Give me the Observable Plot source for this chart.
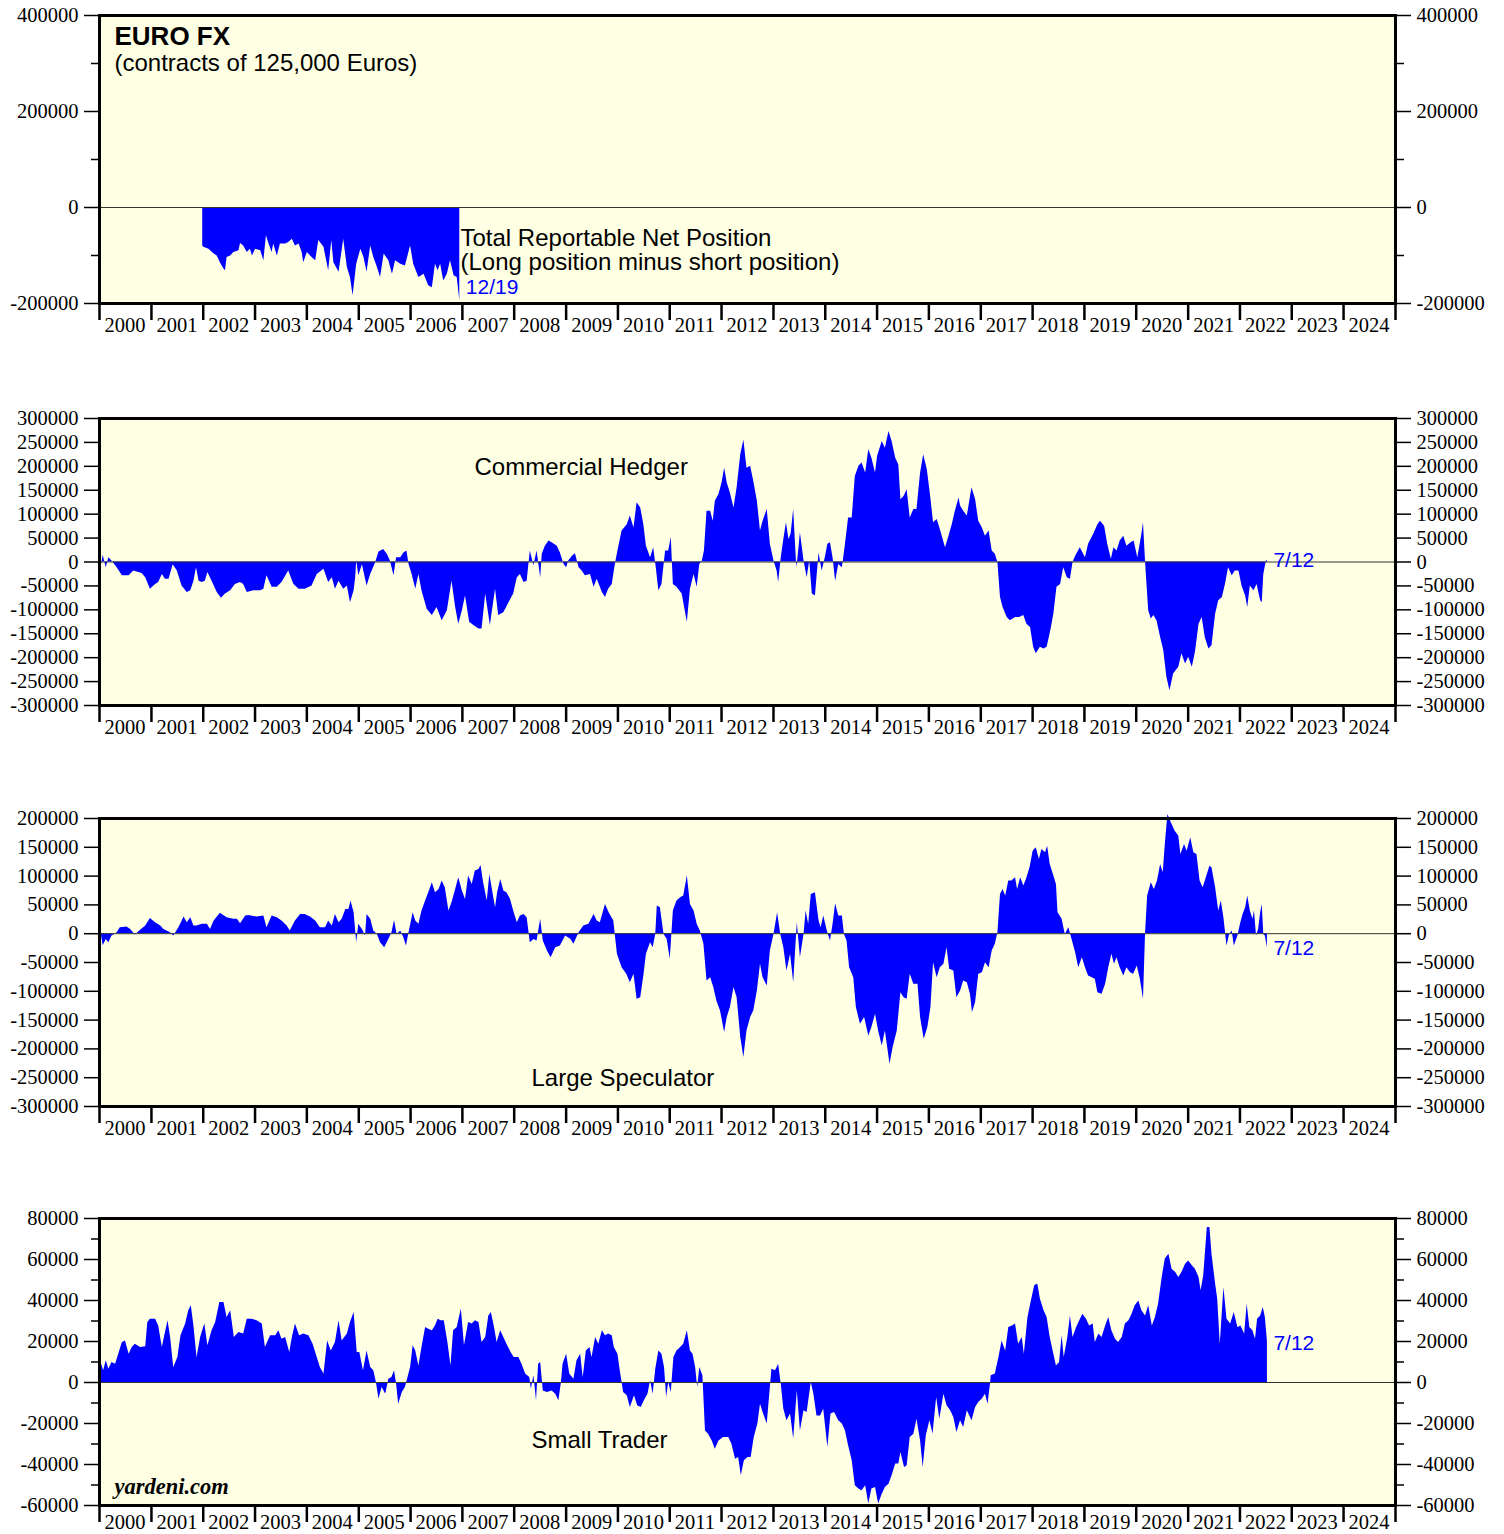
<!DOCTYPE html>
<html><head><meta charset="utf-8">
<script src="https://cdn.jsdelivr.net/npm/d3@7"></script>
<script src="https://cdn.jsdelivr.net/npm/@observablehq/plot@0.6"></script>
<style>
body{margin:0;background:#fff;}
#root{position:relative;width:1504px;height:1534px;overflow:hidden;background:#fff;}
</style></head><body><div id="root"></div>
<script>
// ---- data (decimal year, thousands of contracts) ----
const totalNet = [[2001.99,-80],[2002.01,-83],[2002.11,-87],[2002.21,-97],[2002.27,-101],[2002.33,-115],[2002.40,-128],[2002.43,-132],[2002.46,-104],[2002.53,-101],[2002.59,-94],[2002.69,-90],[2002.72,-75],[2002.78,-80],[2002.85,-94],[2002.91,-87],[2002.95,-101],[2003.01,-87],[2003.11,-90],[2003.17,-111],[2003.22,-59],[2003.27,-76],[2003.33,-94],[2003.36,-76],[2003.43,-101],[2003.49,-76],[2003.59,-76],[2003.65,-73],[2003.72,-66],[2003.78,-80],[2003.85,-76],[2003.91,-94],[2003.94,-115],[2004.01,-94],[2004.10,-104],[2004.17,-111],[2004.23,-69],[2004.33,-83],[2004.42,-132],[2004.48,-69],[2004.52,-115],[2004.62,-135],[2004.71,-66],[2004.78,-125],[2004.84,-146],[2004.89,-184],[2004.96,-118],[2005.04,-87],[2005.10,-104],[2005.16,-135],[2005.23,-80],[2005.29,-104],[2005.36,-125],[2005.42,-146],[2005.49,-97],[2005.58,-111],[2005.65,-139],[2005.71,-111],[2005.81,-118],[2005.90,-122],[2006.00,-80],[2006.06,-118],[2006.16,-146],[2006.26,-139],[2006.35,-163],[2006.42,-167],[2006.48,-118],[2006.53,-132],[2006.58,-118],[2006.64,-153],[2006.71,-139],[2006.77,-111],[2006.84,-142],[2006.90,-146],[2006.95,-194]];

const hedger = [[2000.02,-19],[2000.07,14],[2000.13,-12],[2000.18,9],[2000.24,2],[2000.34,-12],[2000.44,-29],[2000.57,-29],[2000.66,-19],[2000.82,-24],[2000.89,-33],[2000.98,-57],[2001.08,-47],[2001.14,-43],[2001.21,-26],[2001.27,-36],[2001.34,-36],[2001.42,-6],[2001.50,-19],[2001.59,-50],[2001.69,-64],[2001.76,-60],[2001.82,-40],[2001.87,-12],[2001.92,-40],[2001.98,-43],[2002.04,-40],[2002.09,-22],[2002.17,-40],[2002.27,-64],[2002.35,-76],[2002.43,-67],[2002.53,-60],[2002.62,-47],[2002.72,-43],[2002.78,-47],[2002.85,-64],[2002.98,-60],[2003.11,-60],[2003.17,-57],[2003.23,-29],[2003.33,-53],[2003.43,-53],[2003.52,-43],[2003.65,-19],[2003.75,-47],[2003.85,-57],[2003.97,-57],[2004.10,-50],[2004.20,-26],[2004.33,-15],[2004.42,-43],[2004.49,-33],[2004.55,-57],[2004.62,-40],[2004.71,-57],[2004.78,-50],[2004.84,-85],[2004.91,-60],[2004.94,-33],[2004.96,3],[2005.00,-29],[2005.07,-6],[2005.16,-50],[2005.23,-26],[2005.32,-3],[2005.39,21],[2005.48,26],[2005.55,16],[2005.61,2],[2005.68,-29],[2005.73,9],[2005.81,9],[2005.87,19],[2005.93,23],[2005.97,-5],[2006.03,-26],[2006.10,-57],[2006.16,-26],[2006.22,-60],[2006.32,-99],[2006.42,-112],[2006.51,-95],[2006.61,-123],[2006.71,-102],[2006.80,-40],[2006.87,-95],[2006.93,-130],[2007.00,-102],[2007.06,-71],[2007.14,-126],[2007.22,-133],[2007.32,-140],[2007.38,-140],[2007.45,-67],[2007.54,-133],[2007.64,-57],[2007.70,-112],[2007.80,-106],[2007.90,-85],[2007.99,-67],[2008.06,-33],[2008.12,-26],[2008.19,-43],[2008.25,-40],[2008.31,23],[2008.38,-8],[2008.44,23],[2008.51,-33],[2008.54,16],[2008.60,33],[2008.67,44],[2008.73,40],[2008.83,33],[2008.89,19],[2008.96,-5],[2009.01,-12],[2009.05,2],[2009.12,12],[2009.18,17],[2009.25,-12],[2009.31,-19],[2009.37,-29],[2009.47,-26],[2009.54,-53],[2009.60,-36],[2009.70,-64],[2009.76,-74],[2009.82,-57],[2009.89,-47],[2009.95,-5],[2010.00,23],[2010.08,65],[2010.18,78],[2010.24,96],[2010.31,71],[2010.37,124],[2010.44,113],[2010.50,78],[2010.55,33],[2010.63,9],[2010.69,30],[2010.74,-12],[2010.79,-60],[2010.85,-47],[2010.92,23],[2010.98,23],[2011.03,51],[2011.07,-47],[2011.14,-53],[2011.24,-67],[2011.34,-126],[2011.40,-57],[2011.47,-26],[2011.53,-53],[2011.58,-5],[2011.63,2],[2011.67,23],[2011.72,106],[2011.79,106],[2011.84,85],[2011.88,127],[2011.95,141],[2012.01,165],[2012.06,196],[2012.11,165],[2012.17,144],[2012.24,113],[2012.30,155],[2012.37,224],[2012.43,255],[2012.49,196],[2012.56,200],[2012.62,169],[2012.69,127],[2012.75,65],[2012.80,85],[2012.88,110],[2012.94,37],[2013.01,2],[2013.07,-19],[2013.10,-43],[2013.15,9],[2013.20,47],[2013.25,82],[2013.30,47],[2013.34,58],[2013.39,110],[2013.45,-12],[2013.47,6],[2013.52,61],[2013.59,2],[2013.65,-33],[2013.70,2],[2013.75,-67],[2013.81,-71],[2013.88,19],[2013.94,-19],[2014.00,9],[2014.05,37],[2014.10,40],[2014.15,9],[2014.20,-40],[2014.26,-5],[2014.33,-12],[2014.39,37],[2014.45,92],[2014.52,92],[2014.58,179],[2014.65,200],[2014.71,207],[2014.78,186],[2014.84,235],[2014.90,217],[2014.97,186],[2015.01,221],[2015.10,252],[2015.16,238],[2015.23,273],[2015.29,252],[2015.36,217],[2015.42,203],[2015.46,130],[2015.52,137],[2015.58,151],[2015.64,92],[2015.71,110],[2015.77,110],[2015.84,186],[2015.90,224],[2015.97,193],[2016.03,141],[2016.09,82],[2016.16,89],[2016.22,68],[2016.32,30],[2016.38,51],[2016.45,78],[2016.51,106],[2016.58,134],[2016.61,117],[2016.67,106],[2016.74,96],[2016.83,155],[2016.90,130],[2016.96,85],[2017.03,71],[2017.09,54],[2017.16,65],[2017.22,23],[2017.28,16],[2017.33,-1],[2017.38,-74],[2017.43,-95],[2017.51,-116],[2017.57,-123],[2017.67,-116],[2017.75,-116],[2017.83,-112],[2017.89,-130],[2017.96,-137],[2018.02,-178],[2018.07,-192],[2018.15,-178],[2018.22,-182],[2018.28,-178],[2018.35,-144],[2018.41,-109],[2018.47,-53],[2018.54,-47],[2018.60,-12],[2018.67,-33],[2018.73,-36],[2018.78,-1],[2018.83,12],[2018.92,30],[2019.02,9],[2019.08,37],[2019.18,58],[2019.26,78],[2019.31,85],[2019.39,75],[2019.45,37],[2019.52,6],[2019.57,30],[2019.63,23],[2019.69,44],[2019.76,54],[2019.82,33],[2019.90,40],[2019.96,44],[2020.03,9],[2020.11,58],[2020.14,82],[2020.18,-1],[2020.24,-102],[2020.29,-119],[2020.34,-112],[2020.40,-123],[2020.47,-158],[2020.53,-185],[2020.59,-241],[2020.65,-269],[2020.72,-234],[2020.82,-220],[2020.88,-192],[2020.95,-213],[2021.01,-199],[2021.08,-220],[2021.14,-189],[2021.21,-130],[2021.27,-116],[2021.33,-158],[2021.40,-182],[2021.46,-175],[2021.53,-109],[2021.59,-81],[2021.66,-74],[2021.72,-47],[2021.78,-12],[2021.85,-29],[2021.91,-19],[2021.98,-19],[2022.04,-50],[2022.11,-71],[2022.15,-95],[2022.20,-50],[2022.27,-60],[2022.33,-47],[2022.40,-81],[2022.43,-85],[2022.46,-26],[2022.51,2],[2022.53,3]];

const largeSpec = [[2000.02,7.5],[2000.07,-21],[2000.13,-10],[2000.18,-15.6],[2000.24,-4],[2000.34,1.7],[2000.40,10.4],[2000.53,11.6],[2000.60,7.5],[2000.69,-2.3],[2000.79,5.8],[2000.89,13.3],[2000.98,26.6],[2001.08,19],[2001.18,13.3],[2001.24,7.5],[2001.37,1.7],[2001.43,-4],[2001.53,10.4],[2001.63,29],[2001.69,19],[2001.76,27.7],[2001.82,13.3],[2001.88,13.3],[2001.98,16.2],[2002.08,16.2],[2002.14,7.5],[2002.21,22],[2002.33,35.3],[2002.46,27.7],[2002.59,24.9],[2002.66,24.9],[2002.72,17.3],[2002.82,30.6],[2002.88,31.8],[2003.04,28.9],[2003.17,30.6],[2003.23,10.4],[2003.33,30.6],[2003.43,27.7],[2003.52,22],[2003.62,13.3],[2003.68,4.6],[2003.78,22],[2003.88,33.5],[2003.97,33.5],[2004.07,28.9],[2004.17,22],[2004.26,10.4],[2004.36,10.4],[2004.42,22],[2004.49,13.3],[2004.55,33.5],[2004.62,19],[2004.68,24.9],[2004.75,42.2],[2004.81,42.2],[2004.85,56.6],[2004.91,36.4],[2004.96,-15.6],[2005.00,16.2],[2005.07,7.5],[2005.13,-4],[2005.16,33.5],[2005.23,24.9],[2005.29,4.6],[2005.36,-1.2],[2005.42,-15.6],[2005.50,-24.3],[2005.58,-10],[2005.64,1.7],[2005.69,23],[2005.74,-1.2],[2005.81,4.6],[2005.87,-6.9],[2005.92,-21.4],[2005.97,1.7],[2006.05,36.4],[2006.10,22],[2006.16,16.2],[2006.22,39.3],[2006.29,56.6],[2006.35,71],[2006.42,88.4],[2006.48,71],[2006.55,76.8],[2006.61,91.3],[2006.67,79.8],[2006.74,39.3],[2006.80,53.7],[2006.87,76.8],[2006.93,97.1],[2007.00,74],[2007.06,59.5],[2007.12,100],[2007.19,85.5],[2007.25,108.7],[2007.32,111.6],[2007.36,118.5],[2007.41,88.4],[2007.48,56.6],[2007.53,102.9],[2007.59,71],[2007.64,45],[2007.68,71],[2007.74,94.2],[2007.80,74],[2007.86,71],[2007.93,59.5],[2007.99,39.3],[2008.06,19],[2008.12,30.6],[2008.19,33.5],[2008.25,27.7],[2008.31,-15.6],[2008.38,-10],[2008.44,-12.7],[2008.51,24.9],[2008.56,-12.7],[2008.64,-30],[2008.71,-41.6],[2008.80,-24.3],[2008.89,-21.4],[2008.99,-4],[2009.09,-9.8],[2009.15,-18.5],[2009.25,1.7],[2009.34,13.3],[2009.44,16.2],[2009.54,33.5],[2009.60,22],[2009.66,19],[2009.76,50.9],[2009.83,36.4],[2009.92,22],[2009.99,-35.8],[2010.08,-59],[2010.17,-70.5],[2010.24,-85],[2010.31,-70.5],[2010.37,-114],[2010.44,-111],[2010.50,-73.4],[2010.55,-35.8],[2010.63,-15.6],[2010.68,-24.3],[2010.73,-1.2],[2010.76,48],[2010.82,45],[2010.89,-1.2],[2010.95,-9.8],[2011.01,-44.5],[2011.07,39.3],[2011.14,56.6],[2011.21,62.4],[2011.27,65.3],[2011.34,100],[2011.40,50.9],[2011.47,39.3],[2011.53,16.2],[2011.59,4.6],[2011.66,-18.5],[2011.72,-82],[2011.79,-76.3],[2011.85,-93.6],[2011.91,-116.8],[2011.98,-134],[2012.06,-171.7],[2012.11,-145.7],[2012.17,-128.3],[2012.24,-93.6],[2012.30,-111],[2012.37,-180],[2012.43,-215],[2012.49,-168.8],[2012.56,-145.7],[2012.62,-134],[2012.69,-99.4],[2012.75,-53.2],[2012.80,-76.3],[2012.88,-90.7],[2012.94,-30],[2013.01,-1.2],[2013.08,36.4],[2013.14,-1.2],[2013.20,-24.3],[2013.26,-64.7],[2013.33,-35.8],[2013.39,-85],[2013.46,19],[2013.52,-41.6],[2013.59,-1.2],[2013.63,39.3],[2013.68,16.2],[2013.73,68.2],[2013.81,71],[2013.88,22],[2013.92,10.4],[2013.97,30.6],[2014.04,4.6],[2014.10,-12.7],[2014.15,16.2],[2014.20,52],[2014.26,30.6],[2014.33,30.6],[2014.37,-1.2],[2014.42,-12.7],[2014.47,-59],[2014.55,-76.3],[2014.60,-128.3],[2014.68,-157.2],[2014.76,-145.7],[2014.84,-177.5],[2014.90,-163],[2014.97,-140],[2015.03,-168.8],[2015.10,-194.8],[2015.16,-168.8],[2015.25,-226.6],[2015.31,-197.7],[2015.39,-168.8],[2015.46,-102.3],[2015.52,-111],[2015.58,-114],[2015.64,-70.5],[2015.71,-87.9],[2015.79,-87.9],[2015.84,-145.7],[2015.91,-183.2],[2015.98,-163],[2016.04,-128.3],[2016.09,-50.3],[2016.16,-76.3],[2016.22,-59],[2016.29,-53.2],[2016.35,-24.3],[2016.40,-61.8],[2016.48,-64.7],[2016.54,-111],[2016.61,-99.4],[2016.67,-82],[2016.74,-85],[2016.80,-105],[2016.84,-137],[2016.90,-119.6],[2016.96,-70.5],[2017.03,-67.6],[2017.09,-50.3],[2017.16,-59],[2017.22,-30],[2017.28,-18.5],[2017.33,1.7],[2017.38,68.2],[2017.43,76.9],[2017.48,65.3],[2017.54,91.3],[2017.60,91.3],[2017.67,97.1],[2017.71,76.9],[2017.77,97.1],[2017.83,82.7],[2017.88,94.2],[2017.95,114.4],[2018.01,143.3],[2018.07,149.1],[2018.13,128.9],[2018.18,146.2],[2018.25,140.5],[2018.29,152],[2018.34,120.2],[2018.41,100],[2018.46,85.5],[2018.49,36.4],[2018.57,24.9],[2018.63,-1.2],[2018.70,10.4],[2018.76,-9.8],[2018.83,-33],[2018.89,-59],[2018.96,-41.6],[2019.02,-59],[2019.08,-73.4],[2019.15,-76.3],[2019.21,-79.2],[2019.26,-102.3],[2019.34,-105],[2019.41,-87.9],[2019.47,-59],[2019.53,-35.8],[2019.58,-53.2],[2019.63,-41.6],[2019.69,-59],[2019.76,-73.4],[2019.82,-59],[2019.89,-67.6],[2019.95,-70.5],[2020.02,-56.1],[2020.08,-79.2],[2020.14,-114],[2020.18,1.7],[2020.22,65.3],[2020.29,88.4],[2020.35,76.9],[2020.41,91.3],[2020.47,120.2],[2020.52,105.8],[2020.56,154.9],[2020.61,206.9],[2020.69,189.6],[2020.75,178],[2020.82,169.4],[2020.86,137.6],[2020.93,154.9],[2020.98,143.3],[2021.05,166.5],[2021.11,140.5],[2021.17,137.6],[2021.23,91.3],[2021.29,79.8],[2021.35,97.1],[2021.42,117.3],[2021.46,114.4],[2021.53,79.8],[2021.59,39.3],[2021.64,56.6],[2021.69,27.7],[2021.75,-21.4],[2021.80,-1.2],[2021.85,4.6],[2021.89,-21.4],[2021.96,-4],[2022.01,16.2],[2022.06,33.5],[2022.11,45],[2022.15,65.3],[2022.20,39.3],[2022.25,24.9],[2022.28,39.3],[2022.32,-4],[2022.36,7.5],[2022.40,36.4],[2022.43,50.9],[2022.46,-1.2],[2022.49,-4],[2022.53,-24.3]];

const smallTrader = [[2000.02,10.6],[2000.08,5.7],[2000.13,10.6],[2000.18,6.5],[2000.24,9.8],[2000.31,8.9],[2000.37,13.8],[2000.44,19.5],[2000.50,20.3],[2000.57,13.8],[2000.63,17.1],[2000.69,18.7],[2000.79,17.1],[2000.89,17.4],[2000.93,29.3],[2000.98,30.9],[2001.08,30.9],[2001.14,27.6],[2001.21,17.1],[2001.25,22],[2001.32,30.1],[2001.37,22],[2001.43,7.3],[2001.51,12.2],[2001.57,22.8],[2001.66,28.5],[2001.72,35],[2001.77,37.4],[2001.82,27.6],[2001.88,12.2],[2001.95,22],[2002.03,28.5],[2002.09,17.9],[2002.17,25.2],[2002.24,29.3],[2002.32,39],[2002.40,39],[2002.46,31.7],[2002.53,35],[2002.60,22],[2002.69,24.4],[2002.78,23.6],[2002.85,30.9],[2002.94,30.9],[2003.04,30.1],[2003.14,28.5],[2003.20,17.1],[2003.30,22.8],[2003.40,22.8],[2003.46,25.2],[2003.52,21.1],[2003.59,22],[2003.67,14.6],[2003.72,22],[2003.78,28.5],[2003.86,22.8],[2003.94,23.6],[2004.04,22.8],[2004.12,18.7],[2004.20,12.2],[2004.26,7.3],[2004.33,4.1],[2004.40,20.3],[2004.47,15.4],[2004.55,19.5],[2004.62,30.1],[2004.68,20.3],[2004.78,23.6],[2004.84,29.3],[2004.91,34.1],[2004.97,14.6],[2005.02,14.6],[2005.09,5.7],[2005.16,15.4],[2005.23,7.3],[2005.29,5.7],[2005.34,0],[2005.39,-8.1],[2005.45,-2.4],[2005.52,-5.7],[2005.58,1.6],[2005.64,2.4],[2005.69,5.7],[2005.73,-0.8],[2005.77,-10.6],[2005.84,-4.9],[2005.90,-2.4],[2005.95,2.4],[2006.00,7.3],[2006.05,17.9],[2006.10,15.4],[2006.16,8.1],[2006.22,17.1],[2006.29,26.8],[2006.35,26],[2006.42,25.2],[2006.48,27.6],[2006.53,30.9],[2006.59,30.1],[2006.65,30.1],[2006.72,19.5],[2006.78,8.1],[2006.83,25.2],[2006.90,26.8],[2006.98,35.8],[2007.04,17.9],[2007.12,29.3],[2007.19,28.5],[2007.25,30.1],[2007.32,29.3],[2007.38,19.5],[2007.45,22],[2007.51,32.5],[2007.56,34.1],[2007.62,26.8],[2007.67,19.5],[2007.74,25.2],[2007.80,22],[2007.86,18.7],[2007.94,14.6],[2008.00,12.2],[2008.09,12.2],[2008.15,8.9],[2008.22,4.1],[2008.30,2.4],[2008.33,-3.3],[2008.38,3.3],[2008.43,-8.9],[2008.47,8.9],[2008.51,9.8],[2008.56,-4.1],[2008.64,-4.9],[2008.73,-4.1],[2008.80,-5.7],[2008.86,-8.9],[2008.91,0],[2008.94,8.9],[2009.01,13.8],[2009.07,4.1],[2009.15,1.6],[2009.21,10.6],[2009.28,13.8],[2009.33,2.4],[2009.39,15.4],[2009.46,17.1],[2009.50,12.2],[2009.57,22],[2009.63,18.7],[2009.70,25.2],[2009.76,22.8],[2009.82,23.6],[2009.89,22.8],[2009.93,17.1],[2010.00,13.8],[2010.05,4.9],[2010.11,-4.9],[2010.18,-6.5],[2010.24,-12.2],[2010.32,-6.5],[2010.38,-11.4],[2010.45,-12.2],[2010.51,-8.9],[2010.58,-5.7],[2010.63,0.8],[2010.68,-5.7],[2010.73,6.5],[2010.79,15.4],[2010.85,13.8],[2010.90,7.3],[2010.94,-7.3],[2010.98,0],[2011.03,-4.9],[2011.08,12.2],[2011.14,15.4],[2011.21,17.1],[2011.27,18.7],[2011.34,25.2],[2011.40,15.4],[2011.45,13.8],[2011.50,7.3],[2011.54,-2.4],[2011.58,7.3],[2011.64,3.3],[2011.69,-23.6],[2011.75,-25.2],[2011.82,-28.5],[2011.88,-32.5],[2011.95,-28.5],[2012.04,-26.8],[2012.14,-26.8],[2012.20,-30.1],[2012.27,-37.4],[2012.33,-36.6],[2012.38,-45.5],[2012.44,-38.2],[2012.51,-36.6],[2012.57,-36.6],[2012.63,-26.8],[2012.70,-20.3],[2012.75,-10.6],[2012.81,-15.4],[2012.88,-20.3],[2012.94,-2.4],[2012.97,6.5],[2013.04,5.7],[2013.10,8.9],[2013.15,-0.8],[2013.20,-13],[2013.26,-18.7],[2013.33,-15.4],[2013.39,-27.6],[2013.46,-4.1],[2013.52,-23.6],[2013.59,-13.8],[2013.65,-14.6],[2013.73,0],[2013.78,-5.7],[2013.84,-16.3],[2013.91,-16.3],[2013.97,-13],[2014.05,-31.7],[2014.11,-15.4],[2014.18,-14.6],[2014.26,-18.7],[2014.33,-20.3],[2014.39,-23.6],[2014.45,-30.9],[2014.52,-38.2],[2014.58,-50.4],[2014.65,-52],[2014.71,-52.8],[2014.78,-50.4],[2014.84,-59.3],[2014.90,-52],[2014.97,-51.2],[2015.03,-59.3],[2015.10,-54.5],[2015.16,-51.2],[2015.23,-49.6],[2015.29,-45.5],[2015.36,-39.8],[2015.42,-39.8],[2015.46,-34.1],[2015.53,-41.5],[2015.58,-40.7],[2015.64,-26.8],[2015.71,-25.2],[2015.77,-17.9],[2015.84,-28.5],[2015.89,-41.5],[2015.95,-26],[2016.02,-18.7],[2016.08,-25.2],[2016.15,-7.3],[2016.21,-17.9],[2016.29,-5.7],[2016.35,-11.4],[2016.42,-13.8],[2016.48,-17.1],[2016.54,-24.4],[2016.61,-18.7],[2016.67,-22],[2016.74,-13.8],[2016.83,-18.7],[2016.90,-12.2],[2016.96,-9.8],[2017.03,-8.1],[2017.09,-5.7],[2017.14,-10.6],[2017.19,0],[2017.20,3.3],[2017.28,4.1],[2017.35,12.2],[2017.41,20.3],[2017.48,15.4],[2017.54,26.8],[2017.61,27.6],[2017.67,28.5],[2017.73,18.7],[2017.80,22],[2017.84,13.8],[2017.91,31.7],[2017.97,39],[2018.04,47.2],[2018.10,48],[2018.15,40.7],[2018.22,35],[2018.28,31.7],[2018.34,22],[2018.41,13.8],[2018.46,8.1],[2018.52,9.8],[2018.57,22.8],[2018.61,12.2],[2018.68,22],[2018.73,32.5],[2018.78,22],[2018.85,26.8],[2018.91,30.1],[2018.97,33.3],[2019.04,30.9],[2019.10,27.6],[2019.17,28.5],[2019.21,19.5],[2019.28,23.6],[2019.34,22],[2019.41,27.6],[2019.47,31.7],[2019.53,25.2],[2019.60,21.1],[2019.66,19.5],[2019.73,22],[2019.79,28.5],[2019.86,30.1],[2019.92,33.3],[2019.98,37.4],[2020.05,39.8],[2020.11,35],[2020.18,32.5],[2020.24,37.4],[2020.31,27.6],[2020.37,31.7],[2020.43,38.2],[2020.50,51.2],[2020.56,60.2],[2020.63,62.6],[2020.69,55.3],[2020.76,53.7],[2020.82,51.2],[2020.88,53.7],[2020.95,57.7],[2021.01,59.3],[2021.08,56.9],[2021.14,55.3],[2021.21,51.2],[2021.25,44.7],[2021.30,52],[2021.37,75.6],[2021.42,75.6],[2021.46,62.6],[2021.53,48],[2021.57,40.7],[2021.62,18.7],[2021.69,46.3],[2021.75,30.9],[2021.82,28.5],[2021.89,34.1],[2021.96,26.8],[2022.02,27.6],[2022.09,23.6],[2022.14,38.2],[2022.19,26.8],[2022.25,25.2],[2022.30,21.1],[2022.34,30.9],[2022.40,32.5],[2022.45,36.6],[2022.49,31.7],[2022.53,20.3]];

const titleLines = ["EURO FX", "(contracts of 125,000 Euros)"];
const totalLines = ["Total Reportable Net Position", "(Long position minus short position)"];
const panelNames = ["Commercial Hedger", "Large Speculator", "Small Trader"];
const endLabels = ["12/19", "7/12"];
const credit = "yardeni.com";

const p1Major = [400000, 200000, 0, -200000];
const p1Minor = [300000, 100000, -100000];
const p2Major = [300000,250000,200000,150000,100000,50000,0,-50000,-100000,-150000,-200000,-250000,-300000];
const p3Major = [200000,150000,100000,50000,0,-50000,-100000,-150000,-200000,-250000,-300000];
const p4Major = [80000,60000,40000,20000,0,-20000,-40000,-60000];
const p4Minor = [70000,50000,30000,10000,-10000,-30000,-50000];

// ---- helpers ----
const SERIF = "'Liberation Serif','Times New Roman',serif";
const SANS = "'Liberation Sans',Arial,Helvetica,sans-serif";
const BG = "#ffffe3";
const BLUE = "#0000ff";
function toDate(y) {
  const yr = Math.floor(y);
  const a = Date.UTC(yr, 0, 1), b = Date.UTC(yr + 1, 0, 1);
  return new Date(a + (y - yr) * (b - a));
}
const yearTicks = d3.range(2000, 2026).map(y => new Date(Date.UTC(y, 0, 1)));
const fmtY = d3.utcFormat("%Y");

function panel({series, domain, majors, minors, top, height, mt, mb, yearPad, notes}) {
  const data = series.map(([t, v]) => ({date: toDate(t), value: v * 1000}));
  const last = data[data.length - 1];
  const axisFont = {fontFamily: SERIF, fontSize: 20.5};
  const marks = [
    Plot.frame({fill: BG, stroke: "none"}),
    Plot.areaY(data, {x: "date", y: "value", fill: BLUE}),
    Plot.ruleY([0], {stroke: "#333", strokeWidth: 1}),
    Plot.axisY({anchor: "left", ticks: majors, tickSize: 15, tickPadding: 6, strokeWidth: 1.5, tickFormat: d => String(d), label: null, ...axisFont}),
    Plot.axisY({anchor: "right", ticks: majors, tickSize: 15, tickPadding: 6, strokeWidth: 1.5, tickFormat: d => String(d), label: null, ...axisFont}),
    minors ? Plot.axisY({anchor: "left", ticks: minors, tickSize: 8, strokeWidth: 1.5, fill: "none", label: null}) : null,
    minors ? Plot.axisY({anchor: "right", ticks: minors, tickSize: 8, strokeWidth: 1.5, fill: "none", label: null}) : null,
    Plot.axisX({ticks: yearTicks, tickSize: 17, strokeWidth: 2.5, fill: "none", label: null}),
    Plot.axisX({ticks: yearTicks.slice(0, -1), tickSize: 0, tickPadding: yearPad, tickFormat: fmtY, textAnchor: "start", dx: 5, label: null, ...axisFont}),
    ...notes(last),
    Plot.frame({stroke: "black", strokeWidth: 3})
  ];
  const svg = Plot.plot({
    width: 1504, height,
    marginLeft: 99, marginRight: 109, marginTop: mt, marginBottom: mb,
    x: {type: "utc", domain: [yearTicks[0], yearTicks[yearTicks.length - 1]]},
    y: {domain},
    style: {background: "none", overflow: "visible", color: "black"},
    marks
  });
  svg.style.position = "absolute";
  svg.style.left = "0px";
  svg.style.top = top + "px";
  document.getElementById("root").appendChild(svg);
}

const label = (txt, o) => Plot.text([txt], {text: d => d, textAnchor: "start", lineAnchor: "bottom", fontFamily: SANS, fontSize: 24, fill: "black", ...o});
const endLabel = (txt, last, dy) => Plot.text([last], {x: "date", y: "value", text: () => txt, textAnchor: "start", lineAnchor: "bottom", dx: 6, dy, fontFamily: SANS, fontSize: 21, fill: BLUE});

panel({series: totalNet, domain: [-200000, 400000], majors: p1Major, minors: p1Minor, top: 0, height: 345, mt: 15, mb: 42, yearPad: 14,
  notes: last => [
    label(titleLines[0], {frameAnchor: "top-left", dx: 15, dy: 29, fontWeight: "bold", fontSize: 26}),
    label(titleLines[1], {frameAnchor: "top-left", dx: 15, dy: 55}),
    label(totalLines[0], {frameAnchor: "top-left", dx: 361, dy: 230}),
    label(totalLines[1], {frameAnchor: "top-left", dx: 361, dy: 254}),
    endLabel(endLabels[0], last, -7)
  ]});

panel({series: hedger, domain: [-300000, 300000], majors: p2Major, minors: null, top: 380, height: 365, mt: 38, mb: 40, yearPad: 14,
  notes: last => [
    label(panelNames[0], {frameAnchor: "top-left", dx: 375, dy: 56}),
    endLabel(endLabels[1], last, 6)
  ]});

panel({series: largeSpec, domain: [-300000, 200000], majors: p3Major, minors: null, top: 780, height: 365, mt: 38, mb: 39, yearPad: 14,
  notes: last => [
    label(panelNames[1], {frameAnchor: "top-left", dx: 432, dy: 267}),
    endLabel(endLabels[1], last, 7)
  ]});

panel({series: smallTrader, domain: [-60000, 80000], majors: p4Major, minors: p4Minor, top: 1180, height: 354, mt: 38, mb: 29, yearPad: 9,
  notes: last => [
    label(panelNames[2], {frameAnchor: "top-left", dx: 432, dy: 229}),
    endLabel(endLabels[1], last, 9),
    Plot.text([credit], {text: d => d, frameAnchor: "top-left", dx: 15, dy: 275, textAnchor: "start", lineAnchor: "bottom", fontFamily: SERIF, fontWeight: "bold", fontStyle: "italic", fontSize: 22.5, fill: "black"})
  ]});
</script></body></html>
